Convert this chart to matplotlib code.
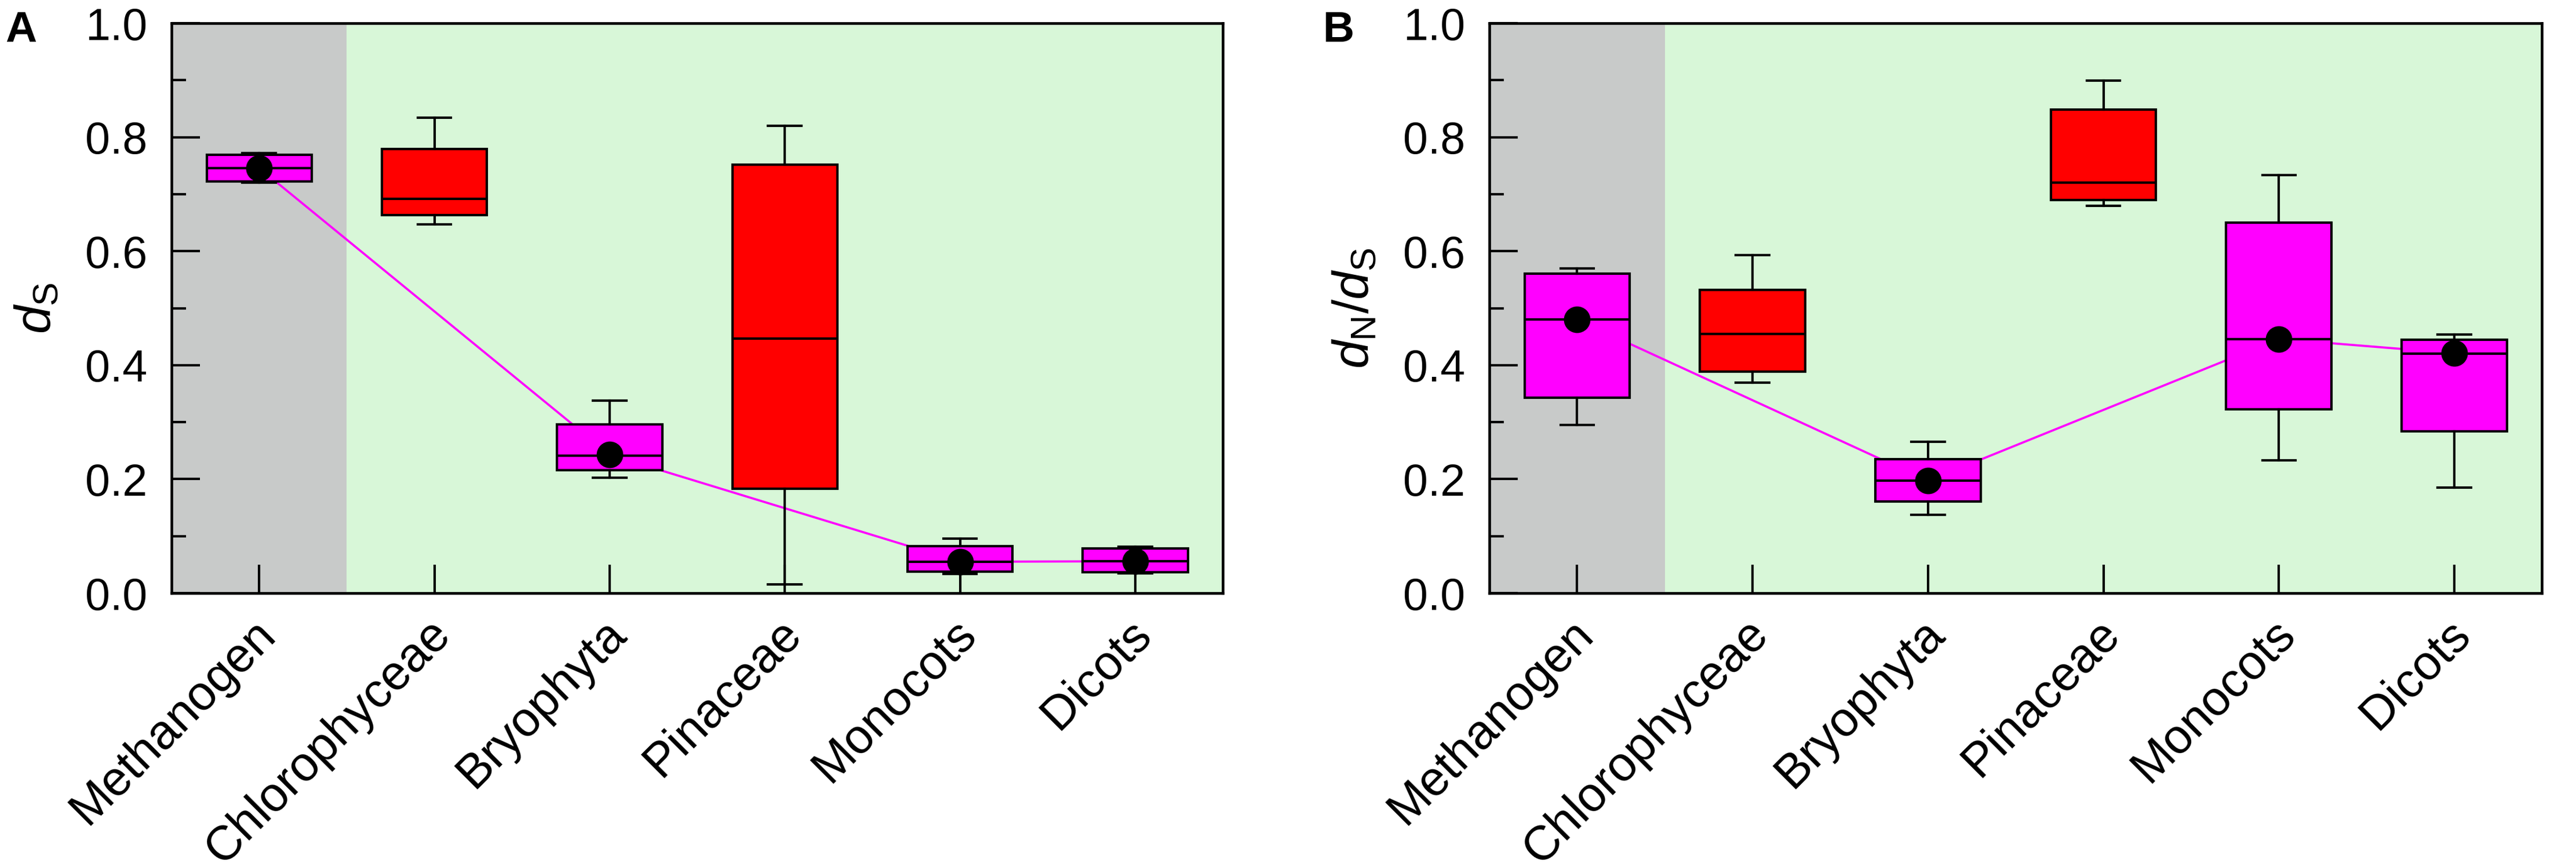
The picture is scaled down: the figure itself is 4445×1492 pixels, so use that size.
import matplotlib
matplotlib.use('Agg')
import matplotlib.pyplot as plt
import matplotlib.transforms as mtransforms
from matplotlib.ticker import MultipleLocator, FormatStrFormatter

plt.rcParams['font.family'] = ['Liberation Sans', 'DejaVu Sans']
plt.rcParams['mathtext.fontset'] = 'custom'
plt.rcParams['mathtext.rm'] = 'Liberation Sans'
plt.rcParams['mathtext.it'] = 'Liberation Sans:italic'

# Groups and box colours
groups = ['Methanogen', 'Chlorophyceae', 'Bryophyta', 'Pinaceae', 'Monocots', 'Dicots']
box_colors = ['#FF00FF', '#FF0000', '#FF00FF', '#FF0000', '#FF00FF', '#FF00FF']

# Panel A: dS
ds_whislo = [0.720, 0.647, 0.203, 0.015, 0.034, 0.035]
ds_q1 = [0.722, 0.663, 0.216, 0.183, 0.038, 0.037]
ds_med = [0.746, 0.692, 0.241, 0.447, 0.055, 0.056]
ds_q3 = [0.769, 0.779, 0.296, 0.752, 0.082, 0.078]
ds_whishi = [0.772, 0.834, 0.338, 0.820, 0.096, 0.081]
ds_mean = [0.746, None, 0.243, None, 0.055, 0.056]

# Panel B: dN/dS
dnds_whislo = [0.295, 0.369, 0.137, 0.680, 0.233, 0.185]
dnds_q1 = [0.343, 0.389, 0.161, 0.690, 0.323, 0.284]
dnds_med = [0.480, 0.455, 0.197, 0.720, 0.446, 0.420]
dnds_q3 = [0.561, 0.532, 0.235, 0.849, 0.650, 0.445]
dnds_whishi = [0.570, 0.593, 0.266, 0.899, 0.734, 0.454]
dnds_mean = [0.480, None, 0.197, None, 0.446, 0.421]


def draw_panel(ax, whislo, q1, med, q3, whishi, mean, ylabel):
    positions = list(range(1, len(groups) + 1))
    stats = []
    for i in range(len(groups)):
        stats.append({'whislo': whislo[i], 'q1': q1[i], 'med': med[i],
                      'q3': q3[i], 'whishi': whishi[i], 'fliers': []})

    ax.set_facecolor('#D8F7D8')
    ax.axvspan(0.5, 1.5, color='#C8CAC9', zorder=0, lw=0)

    # line through the means, behind the boxes
    xs = [p for p, m in zip(positions, mean) if m is not None]
    ys = [m for m in mean if m is not None]
    ax.plot(xs, ys, color='#FF00FF', lw=0.9, zorder=1)

    bp = ax.bxp(stats, positions=positions, widths=0.6, capwidths=0.19,
                patch_artist=True, showfliers=False, manage_ticks=False,
                boxprops=dict(edgecolor='black', linewidth=1.0),
                medianprops=dict(color='black', linewidth=1.0),
                whiskerprops=dict(color='black', linewidth=1.0),
                capprops=dict(color='black', linewidth=1.0))
    for patch, c in zip(bp['boxes'], box_colors):
        patch.set_facecolor(c)
        patch.set_zorder(2)
    for key in ['medians', 'whiskers', 'caps']:
        for line in bp[key]:
            line.set_zorder(2.5)

    ax.plot(xs, ys, 'o', color='black', markersize=10, zorder=4)

    ax.set_xlim(0.5, 6.5)
    ax.set_ylim(0, 1.0)
    ax.yaxis.set_major_locator(MultipleLocator(0.2))
    ax.yaxis.set_minor_locator(MultipleLocator(0.1))
    ax.yaxis.set_major_formatter(FormatStrFormatter('%.1f'))
    ax.tick_params(axis='y', which='major', direction='in', length=11.8, width=1.0,
                   labelsize=18.5, pad=10)
    ax.tick_params(axis='y', which='minor', direction='in', length=6, width=1.0)
    ax.tick_params(axis='x', which='major', direction='in', length=11.8, width=1.0,
                   labelsize=20, pad=14)
    ax.set_xticks(positions)
    ax.set_xticklabels(groups, rotation=45, ha='right', va='center',
                       rotation_mode='anchor')
    offset = mtransforms.ScaledTranslation(15 / 300, 0, ax.figure.dpi_scale_trans)
    for lab in ax.get_xticklabels():
        lab.set_transform(lab.get_transform() + offset)
    for sp in ax.spines.values():
        sp.set_linewidth(1.1)
        sp.set_zorder(5)
    ax.set_ylabel(ylabel, fontsize=21, labelpad=10)


fig = plt.figure(figsize=(4445 / 300, 1492 / 300), dpi=300)
ax_a = fig.add_axes([0.0666, 0.3143, 0.4081, 0.6588])
ax_b = fig.add_axes([0.5782, 0.3143, 0.4086, 0.6588])

draw_panel(ax_a, ds_whislo, ds_q1, ds_med, ds_q3, ds_whishi, ds_mean,
           r'$d_{\mathrm{S}}$')
draw_panel(ax_b, dnds_whislo, dnds_q1, dnds_med, dnds_q3, dnds_whishi, dnds_mean,
           r'$d_{\mathrm{N}}/d_{\mathrm{S}}$')

fig.text(0.002, 0.988, 'A', fontsize=18, fontweight='bold', va='top', ha='left')
fig.text(0.5135, 0.988, 'B', fontsize=18, fontweight='bold', va='top', ha='left')

fig.savefig('out.png', dpi=300, facecolor='white')
